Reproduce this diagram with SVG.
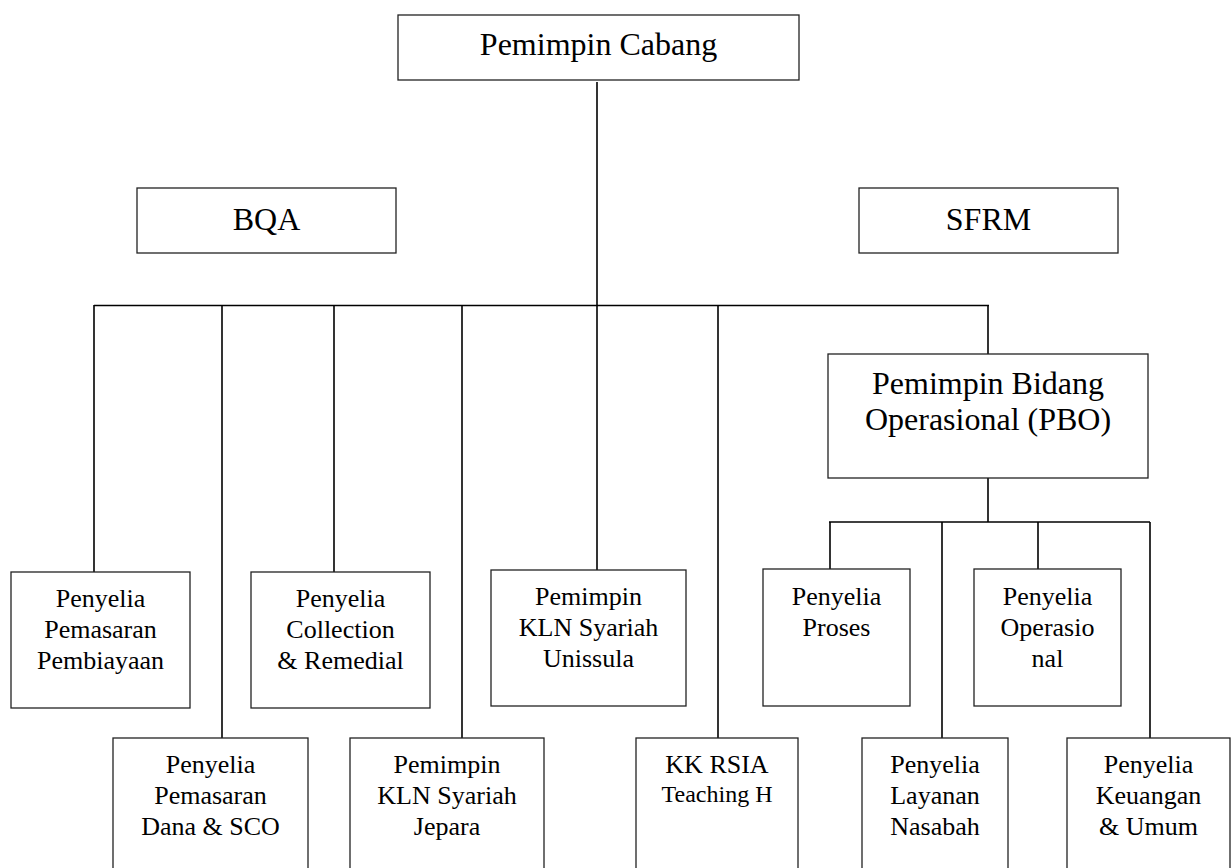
<svg xmlns="http://www.w3.org/2000/svg" width="1231" height="868" viewBox="0 0 1231 868">
<style>
.box{fill:#fff;stroke:#222;stroke-width:1.3}
.t{font-family:'Liberation Serif','Times New Roman',serif;fill:#000;text-anchor:middle}
.s{font-size:26px}
.l{font-size:32px}
.c line{stroke:#000;stroke-width:1.6}
</style>
<rect width="1231" height="868" fill="#fff"/>
<g class="c" id="connectors">
<line x1="597" y1="82" x2="597" y2="306"/>
<line x1="94" y1="305.5" x2="989" y2="305.5"/>
<line x1="94" y1="305" x2="94" y2="572"/>
<line x1="222" y1="305" x2="222" y2="738"/>
<line x1="334" y1="305" x2="334" y2="572"/>
<line x1="462" y1="305" x2="462" y2="738"/>
<line x1="597" y1="305" x2="597" y2="570"/>
<line x1="718" y1="305" x2="718" y2="738"/>
<line x1="988" y1="305" x2="988" y2="354"/>
<line x1="988" y1="473" x2="988" y2="522"/>
<line x1="829" y1="522" x2="1150" y2="522"/>
<line x1="830" y1="522" x2="830" y2="569"/>
<line x1="942" y1="522" x2="942" y2="738"/>
<line x1="1038" y1="522" x2="1038" y2="569"/>
<line x1="1150" y1="522" x2="1150" y2="738"/>
</g>
<g id="pemimpin-cabang"><rect class="box" x="398" y="15" width="401" height="65"/><text class="t l" x="598.5" y="55">Pemimpin Cabang</text></g>
<g id="bqa"><rect class="box" x="137" y="188" width="259" height="65"/><text class="t l" x="266.5" y="230">BQA</text></g>
<g id="sfrm"><rect class="box" x="859" y="188" width="259" height="65"/><text class="t l" x="988.5" y="230">SFRM</text></g>
<g id="pbo"><rect class="box" x="828" y="354" width="320" height="124"/><text class="t l" x="988" y="394">Pemimpin Bidang</text><text class="t l" x="988" y="430">Operasional (PBO)</text></g>
<g id="pembiayaan"><rect class="box" x="11" y="572" width="179" height="136"/><text class="t s" x="100.5" y="607">Penyelia</text><text class="t s" x="100.5" y="638">Pemasaran</text><text class="t s" x="100.5" y="669">Pembiayaan</text></g>
<g id="collection"><rect class="box" x="251" y="572" width="179" height="136"/><text class="t s" x="340.5" y="607">Penyelia</text><text class="t s" x="340.5" y="638">Collection</text><text class="t s" x="340.5" y="669">&amp; Remedial</text></g>
<g id="unissula"><rect class="box" x="491" y="570" width="195" height="136"/><text class="t s" x="588.5" y="605">Pemimpin</text><text class="t s" x="588.5" y="636">KLN Syariah</text><text class="t s" x="588.5" y="667">Unissula</text></g>
<g id="proses"><rect class="box" x="763" y="569" width="147" height="137"/><text class="t s" x="836.5" y="605">Penyelia</text><text class="t s" x="836.5" y="636">Proses</text></g>
<g id="operasional"><rect class="box" x="974" y="569" width="147" height="137"/><text class="t s" x="1047.5" y="605">Penyelia</text><text class="t s" x="1047.5" y="636">Operasio</text><text class="t s" x="1047.5" y="667">nal</text></g>
<g id="dana"><rect class="box" x="113" y="738" width="195" height="140"/><text class="t s" x="210.5" y="773">Penyelia</text><text class="t s" x="210.5" y="804">Pemasaran</text><text class="t s" x="210.5" y="835">Dana &amp; SCO</text></g>
<g id="jepara"><rect class="box" x="350" y="738" width="194" height="140"/><text class="t s" x="447" y="773">Pemimpin</text><text class="t s" x="447" y="804">KLN Syariah</text><text class="t s" x="447" y="835">Jepara</text></g>
<g id="kk-rsia"><rect class="box" x="636" y="738" width="162" height="140"/><text class="t s" x="717" y="773">KK RSIA</text><text class="t" x="717" y="802" font-size="24">Teaching H</text></g>
<g id="layanan"><rect class="box" x="862" y="738" width="146" height="140"/><text class="t s" x="935" y="773">Penyelia</text><text class="t s" x="935" y="804">Layanan</text><text class="t s" x="935" y="835">Nasabah</text></g>
<g id="keuangan"><rect class="box" x="1067" y="738" width="163" height="140"/><text class="t s" x="1148.5" y="773">Penyelia</text><text class="t s" x="1148.5" y="804">Keuangan</text><text class="t s" x="1148.5" y="835">&amp; Umum</text></g>
</svg>
